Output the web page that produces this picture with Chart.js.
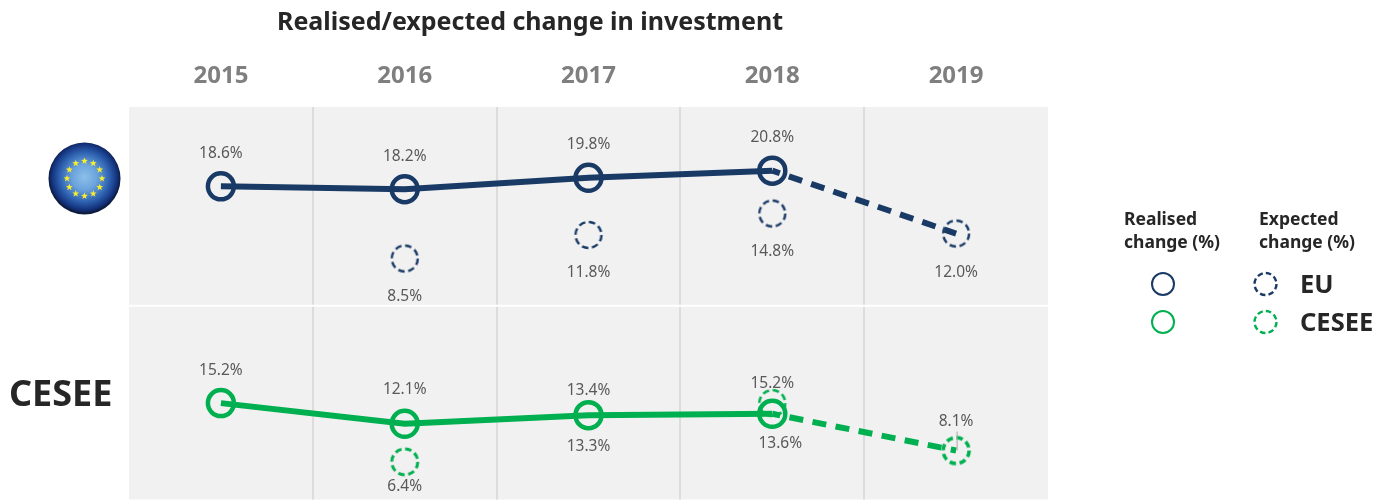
<!DOCTYPE html>
<html><head><meta charset="utf-8">
<script src="https://cdn.jsdelivr.net/npm/chart.js@4"></script>
<style>
html,body{margin:0;padding:0;background:#fff;width:1388px;height:500px;overflow:hidden}
body{position:relative;font-family:"Noto Sans","Open Sans",sans-serif;color:#262626}
canvas#c{position:absolute;left:0;top:0}
.t{position:absolute;white-space:nowrap;font-weight:700;line-height:1}
svg{position:absolute;left:0;top:0}
</style></head><body>
<canvas id="c" width="1388" height="517"></canvas>
<svg width="1388" height="500" id="deco">
<defs><radialGradient id="g" cx="50%" cy="48%" r="50%">
<stop offset="0" stop-color="#8cc0ea"/><stop offset=".35" stop-color="#6ba3dc"/><stop offset=".7" stop-color="#2c5fae"/><stop offset=".92" stop-color="#122f78"/><stop offset="1" stop-color="#0d1b3c"/></radialGradient></defs>
<circle cx="84.5" cy="178.5" r="36" fill="url(#g)"/>
<g id="stars" fill="#f7ee2e"></g>
<circle cx="1163" cy="284" r="11" fill="none" stroke="#1a3a66" stroke-width="2"/>
<circle cx="1163" cy="322" r="11" fill="none" stroke="#00b050" stroke-width="2"/>
<circle cx="1265.500" cy="284" r="11" fill="none" stroke="#1a3a66" stroke-width="2.4" stroke-dasharray="5.500 3.140"/>
<circle cx="1265.500" cy="322" r="11" fill="none" stroke="#00b050" stroke-width="2.4" stroke-dasharray="5.500 3.140"/>
</svg>
<div class="t" style="left:277px;top:8px;font-size:25px">Realised/expected change in investment</div>
<div class="t" style="left:9px;top:375px;font-size:36px">CESEE</div>
<div class="t" style="left:1124px;top:210px;font-size:17.5px">Realised</div>
<div class="t" style="left:1124px;top:233px;font-size:17.5px">change (%)</div>
<div class="t" style="left:1259px;top:210px;font-size:17.5px">Expected</div>
<div class="t" style="left:1259px;top:233px;font-size:17.5px">change (%)</div>
<div class="t" style="left:1300px;top:271px;font-size:25.500px">EU</div>
<div class="t" style="left:1300px;top:309px;font-size:25.500px">CESEE</div>
<script>
// ---- data ----
const years = ['2015','2016','2017','2018','2019'];
const euRealised     = [18.6,18.2,19.8,20.8,null];
const euExpected     = [null,8.5,11.8,14.8,12.0];
const euLink         = [null,null,null,20.8,12.0];
const ceseeRealised  = [15.2,12.1,13.4,13.6,null];
const ceseeExpected  = [null,6.4,13.3,15.2,8.1];
const ceseeLink      = [null,null,null,13.6,8.1];
// label offsets in px from each point (styling only)
const euRealisedLabelDy    = [-33,-33,-33,-33,0];
const euExpectedLabelDy    = [0,38,38,38,39];
const ceseeRealisedLabelDy = [-33,-34,-25,30,0];
const ceseeExpectedLabelDy = [0,25,31,-20,-29];
const ceseeRealisedLabelDx = [0,0,0,8,0];

const NAVY='#1a3a66', GREEN='#00b050';
function dashedCircle(color,lw){
  const s=36,c=document.createElement('canvas');c.width=s;c.height=s;
  const x=c.getContext('2d');x.strokeStyle=color;x.lineWidth=lw;x.setLineDash([6.5,3.71]);
  x.beginPath();x.arc(s/2,s/2,13,0,Math.PI*2);x.stroke();return c;
}
const stars=document.getElementById('stars');
(function(){let h='';for(let i=0;i<12;i++){const a=i*Math.PI/6,cx=84.5+17.5*Math.sin(a),cy=178.5-17.5*Math.cos(a);
  let p=[];for(let k=0;k<10;k++){const r=k%2?1.5:3.6,b=k*Math.PI/5;p.push((cx+r*Math.sin(b)).toFixed(1)+','+(cy-r*Math.cos(b)).toFixed(1));}
  h+='<polygon points="'+p.join(' ')+'"/>';}stars.innerHTML=h;})();

const labelPlugin={id:'labels',
  beforeDraw(ch){const a=ch.chartArea,x=ch.ctx;x.save();x.fillStyle='#f1f1f1';x.fillRect(a.left,a.top,a.width,a.height);x.restore();},
  beforeDatasetsDraw(ch){const a=ch.chartArea,x=ch.ctx,sep=ch.scales.yC.top;x.save();x.fillStyle='#fff';x.fillRect(a.left,sep-1,a.width,2);x.restore();},
  afterDatasetsDraw(ch){const x=ch.ctx;x.save();
    x.font='15.5px "Noto Sans","Open Sans",sans-serif';x.fillStyle='#595959';x.textAlign='center';x.textBaseline='middle';
    ch.data.datasets.forEach((d,i)=>{ if(!d.labelDy) return;
      const m=ch.getDatasetMeta(i);
      d.data.forEach((v,j)=>{ if(v==null) return;const e=m.data[j];
        x.fillText(v.toFixed(1)+'%',e.x+(d.labelDx?d.labelDx[j]:0),e.y+d.labelDy[j]);
        if(d.leader&&d.leader[j]){x.save();x.strokeStyle='#a6a6a6';x.lineWidth=1;x.beginPath();x.moveTo(e.x+1,e.y+d.labelDy[j]+10);x.lineTo(e.x+1,e.y);x.stroke();x.restore();}
      });});
    x.restore();}
};
const realised=(data,color,yAxisID,labelDy,labelDx)=>({data,yAxisID,labelDy,labelDx,borderColor:color,backgroundColor:'transparent',borderWidth:6,
  pointRadius:13,pointBorderWidth:4.5,pointBorderColor:color,pointBackgroundColor:'rgba(0,0,0,0)',pointHoverRadius:13,spanGaps:false,tension:0});
const expected=(data,color,yAxisID,labelDy,widths,leader)=>({data,yAxisID,labelDy,leader,showLine:false,borderColor:color,backgroundColor:'transparent',
  pointStyle:widths.map(w=>dashedCircle(color,w)),pointRadius:14});
const link=(data,color,yAxisID)=>({data,yAxisID,borderColor:color,borderWidth:6,borderDash:[14,9.5],borderDashOffset:6,pointRadius:0,tension:0,backgroundColor:'transparent'});
new Chart(document.getElementById('c'),{type:'line',
  data:{labels:years,datasets:[
    link(euLink,NAVY,'yE'),
    expected(euExpected,NAVY,'yE',euExpectedLabelDy,[2.4,2.4,2.4,2.4,2.4]),
    realised(euRealised,NAVY,'yE',euRealisedLabelDy),
    link(ceseeLink,GREEN,'yC'),
    expected(ceseeExpected,GREEN,'yC',ceseeExpectedLabelDy,[3,3,2.6,2.6,3.6],[0,0,0,0,1]),
    realised(ceseeRealised,GREEN,'yC',ceseeRealisedLabelDy,ceseeRealisedLabelDx),
  ]},
  plugins:[labelPlugin],
  options:{responsive:false,animation:false,events:[],
    layout:{padding:{left:121,right:340,top:0,bottom:0}},
    plugins:{legend:{display:false},title:{display:false},tooltip:{enabled:false}},
    scales:{
      x:{position:'top',offset:true,afterFit(s){s.height=107;},
        border:{display:false},
        grid:{offset:true,drawTicks:false,lineWidth:2,color:c=>(c.index>=1&&c.index<years.length)?'#dcdcdc':'rgba(0,0,0,0)'},
        ticks:{color:'#7f7f7f',padding:16,maxRotation:0,font:{family:'"Noto Sans","Open Sans",sans-serif',size:24,weight:'700'}}},
      yC:{position:'left',stack:'p',stackWeight:194,min:0.76,max:29.79,border:{display:false},grid:{display:false},ticks:{display:false}},
      yE:{position:'left',stack:'p',stackWeight:199,min:1.9,max:29.7,border:{display:false},grid:{display:false},ticks:{display:false}}
    }}
});
</script>
</body></html>
